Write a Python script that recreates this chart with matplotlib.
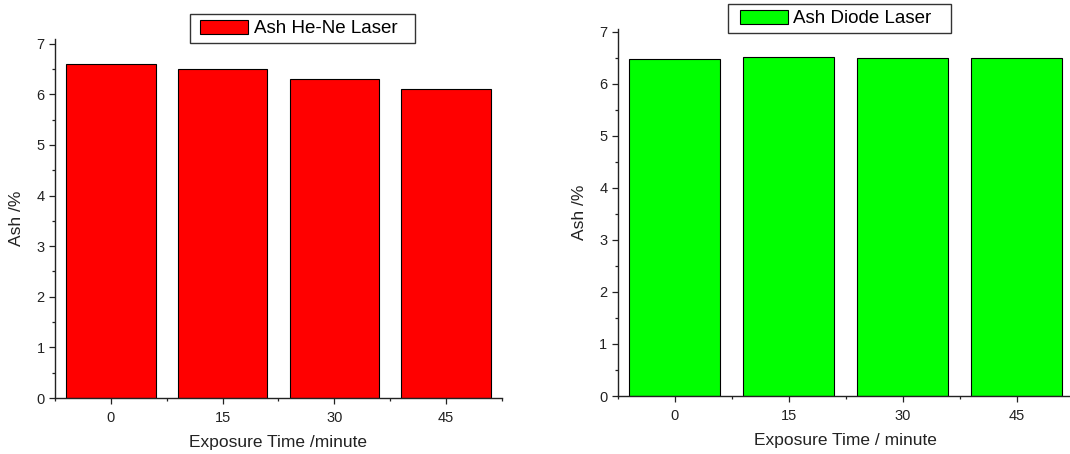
import matplotlib
matplotlib.use("Agg")
import matplotlib.pyplot as plt
import numpy as np
from matplotlib.patches import Rectangle
from matplotlib.ticker import MultipleLocator, FixedLocator

plt.rcParams['font.family'] = ['Liberation Sans', 'DejaVu Sans']

# data
times = ["0", "15", "30", "45"]
ash_hene = [6.6, 6.51, 6.3, 6.1]
ash_diode = [6.48, 6.52, 6.5, 6.5]

W, H = 1070, 454
fig = plt.figure(figsize=(W / 100, H / 100), dpi=100)


def make_panel(rect, values, color, label, xlabel, ytop, leg_box):
    ax = fig.add_axes(rect)
    x = np.arange(len(times))
    ax.bar(x, values, width=0.8, color=color, edgecolor="black",
           linewidth=0.8, label=label, zorder=2)
    ax.set_xlim(-0.5, len(times) - 0.5)
    ax.set_ylim(0, ytop)
    ax.set_xticks(x)
    ax.set_xticklabels(times)
    ax.xaxis.set_minor_locator(FixedLocator(np.arange(-0.5, len(times), 1.0)))
    ax.yaxis.set_major_locator(MultipleLocator(1))
    ax.yaxis.set_minor_locator(MultipleLocator(0.5))
    for s in ("top", "right"):
        ax.spines[s].set_visible(False)
    for s in ("left", "bottom"):
        ax.spines[s].set_linewidth(1.0)
        ax.spines[s].set_color("#222222")
    ax.tick_params(which="major", length=4.5, width=0.9, color="#222222",
                   labelsize=10.5, labelcolor="#222222")
    ax.tick_params(axis="x", which="major", pad=5)
    ax.tick_params(axis="y", which="major", pad=3)
    ax.tick_params(which="minor", length=2.5, width=0.9, color="#222222")

    # label positions in pixels from the axes
    bbox = ax.get_position()
    wpx = bbox.width * W
    hpx = bbox.height * H
    ax.set_xlabel(xlabel, fontsize=12.5, color="#222222", va="center")
    ax.xaxis.set_label_coords(0.5, -45 / hpx)
    ax.set_ylabel("Ash /%", fontsize=12.5, color="#222222", va="center")
    ax.yaxis.set_label_coords(-38.5 / wpx, 0.5)

    # legend box (left, top, right, bottom in pixels); content sits a bit left
    l, t, r, b = leg_box
    fig.patches.append(Rectangle((l / W, 1 - b / H), (r - l) / W, (b - t) / H,
                                 transform=fig.transFigure, facecolor="white",
                                 edgecolor="#333333", linewidth=1.0, zorder=5))
    leg = fig.legend(handles=ax.containers[0].patches[:1], labels=[label],
                     loc="center",
                     bbox_to_anchor=((l + r) / 2 / W - 4 / W, 1 - (t + b) / 2 / H),
                     fontsize=13.5, frameon=False, handlelength=2.56,
                     handleheight=0.85, handletextpad=0.3, borderpad=0.3)
    leg.set_zorder(6)
    return ax


make_panel([55 / W, 56 / H, 446.7 / W, 359.3 / H], ash_hene, "#FF0000",
           "Ash He-Ne Laser", "Exposure Time /minute", 7.1,
           (190, 14, 415, 43))
make_panel([617.7 / W, 58 / H, 456 / W, 366.9 / H], ash_diode, "#00FF00",
           "Ash Diode Laser", "Exposure Time / minute", 7.05,
           (728, 4, 951, 33))

fig.savefig("out.png", dpi=100)
